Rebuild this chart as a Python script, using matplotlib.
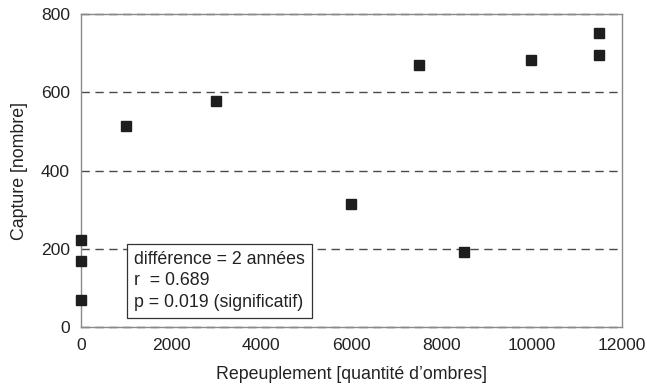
import matplotlib
matplotlib.use("Agg")
import matplotlib.pyplot as plt

plt.rcParams["font.family"] = ["Liberation Sans", "DejaVu Sans"]

repeuplement = [0, 0, 0, 1000, 3000, 6000, 7500, 8500, 10000, 11500, 11500]
capture = [222, 170, 69, 515, 579, 314, 669, 192, 684, 751, 695]
y_ticks = [0, 200, 400, 600, 800]
x_ticks = [0, 2000, 4000, 6000, 8000, 10000, 12000]
stats_lines = ["différence = 2 années", "r  = 0.689", "p = 0.019 (significatif)"]

fig = plt.figure(figsize=(6.47, 3.85), dpi=100)
ax = fig.add_axes([0.125, 0.1506, 0.8356, 0.8124])

# dashed horizontal grid, drawn over the grey frame at 0 and 800
for y in y_ticks:
    ax.axhline(y, color="#4a4a4a", linestyle=(0, (6, 4)), linewidth=1.0,
               clip_on=False, zorder=2.5)

ax.plot(repeuplement, capture, linestyle="none", marker="s", markersize=7.2,
        color="#1e1e1e", clip_on=False, zorder=3)

ax.set_xlim(0, 12000)
ax.set_ylim(0, 800)
ax.set_xticks(x_ticks)
ax.set_yticks(y_ticks)
ax.tick_params(length=0, labelsize=12.6, colors="#222222")
ax.tick_params(axis="x", pad=8)
ax.tick_params(axis="y", pad=8)
for spine in ax.spines.values():
    spine.set_color("#8a8a8a")
    spine.set_linewidth(1.0)

ax.set_xlabel("Repeuplement [quantité d’ombres]", fontsize=12.8, color="#222222", labelpad=9)
ax.set_ylabel("Capture [nombre]", fontsize=12.8, color="#222222", labelpad=9)

ax.text(1190, 42, "\n".join(stats_lines), fontsize=12.8, color="#222222",
        va="bottom", ha="left", linespacing=1.32, zorder=4,
        bbox=dict(boxstyle="square,pad=0.4", facecolor="white", edgecolor="#333333", linewidth=0.9))

fig.savefig("out.png", dpi=100)
